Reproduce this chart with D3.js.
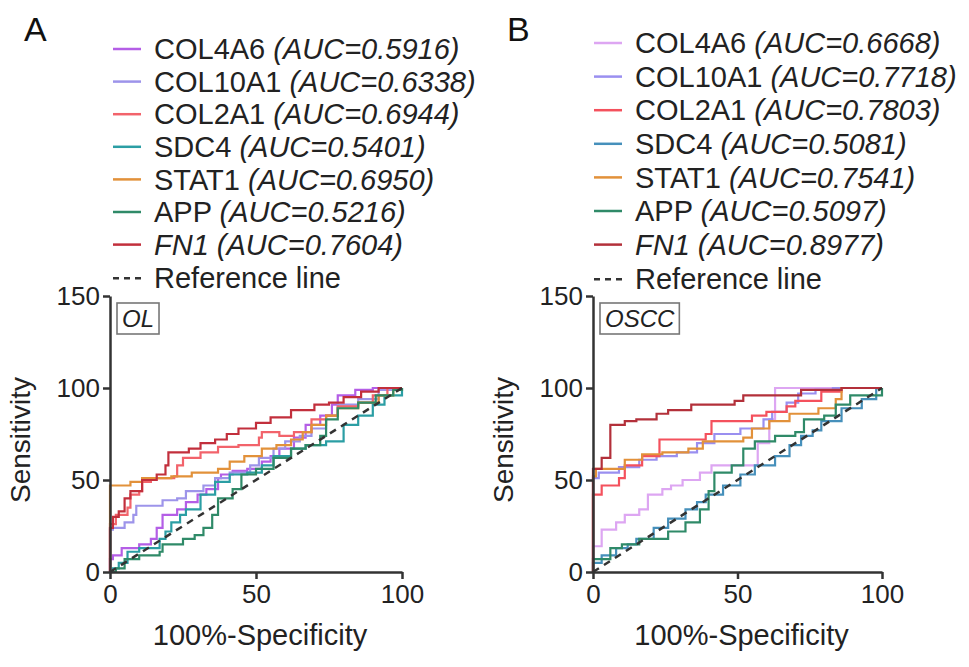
<!DOCTYPE html>
<html>
<head>
<meta charset="utf-8">
<script src="https://cdnjs.cloudflare.com/ajax/libs/d3/7.8.5/d3.min.js"></script>
<style>
  html, body { margin: 0; padding: 0; background: #fff; }
  svg { display: block; font-family: "Liberation Sans", Arial, Helvetica, sans-serif; }
</style>
</head>
<body>
<svg id="chart" width="969" height="667"></svg>
<script>
/**
 * two ROC panels (OL / OSCC) with step curves
 */
(function() {
"use strict";

// --- data --------------------------------------------------------------
var genes = ["COL4A6", "COL10A1", "COL2A1", "SDC4", "STAT1", "APP", "FN1"];
var italicGene = [false, false, false, false, false, false, true];

var aucOL   = ["0.5916", "0.6338", "0.6944", "0.5401", "0.6950", "0.5216", "0.7604"];
var aucOSCC = ["0.6668", "0.7718", "0.7803", "0.5081", "0.7541", "0.5097", "0.8977"];

var colorsOL   = ["#b45ee6", "#9d94ea", "#f2636b", "#2b9ea4", "#e2913a", "#2f8a68", "#c22f3c"];
var colorsOSCC = ["#dda6f2", "#9a8ff0", "#f4515d", "#4690bb", "#e2913a", "#2f8a68", "#b3303a"];

var xTicks = [0, 50, 100];
var yTicks = [0, 50, 100, 150];

// [100%-specificity, sensitivity], step after
var olCOL4A6 = [[0,0],[0,7],[1,9],[4,13],[10,15],[14,18],[16,24],[18,31],[23,34],[26,38],[30,42],[33,45],[37,51],[38,53],[42,55],[47,56],[52,60],[55,63],[58,67],[63,73],[67,80],[72,85],[76,91],[78,96],[84,99],[90,100],[100,100]];
var olCOL10A1 = [[0,0],[0,23],[1,24],[5,27],[8,31],[9,36],[18,39],[23,40],[26,44],[32,47],[36,51],[41,54],[48,58],[51,62],[56,67],[60,71],[65,74],[69,78],[74,85],[78,91],[85,94],[92,99],[99,100],[100,100]];
var olCOL2A1 = [[0,0],[0,26],[2,31],[6,35],[7,42],[10,44],[11,49],[14,51],[22,52],[23,58],[25,62],[31,65],[37,68],[44,69],[51,73],[52,76],[58,74],[63,76],[69,83],[74,85],[78,90],[85,92],[90,96],[95,100],[100,100]];
var olSDC4 = [[0,0],[1,2],[3,5],[6,11],[10,13],[17,18],[19,22],[21,27],[24,31],[26,34],[31,42],[36,49],[41,53],[47,54],[52,58],[56,63],[62,67],[67,69],[74,71],[80,80],[85,85],[90,91],[94,96],[100,100]];
var olSTAT1 = [[0,0],[0,47],[7,49],[11,51],[21,52],[28,54],[37,56],[41,60],[46,63],[52,67],[57,69],[62,72],[66,76],[69,80],[74,85],[78,89],[85,92],[92,96],[97,100],[100,100]];
var olAPP = [[0,0],[2,2],[5,7],[10,9],[17,11],[18,15],[25,18],[29,20],[32,24],[35,31],[37,40],[42,45],[45,53],[50,56],[56,62],[62,67],[67,69],[72,74],[74,83],[78,89],[85,92],[91,96],[97,99],[100,100]];
var olFN1 = [[0,0],[0,24],[1,30],[3,33],[5,40],[7,44],[11,50],[16,53],[19,58],[20,65],[27,67],[31,70],[36,72],[40,75],[44,78],[50,81],[55,84],[62,88],[70,91],[75,92],[80,95],[86,98],[92,100],[100,100]];

var osccCOL4A6 = [[0,0],[0,14],[3,23],[8,27],[11,31],[16,34],[19,42],[24,45],[27,47],[31,50],[37,54],[41,58],[57,70],[61,83],[63,100],[100,100]];
var osccCOL10A1 = [[0,0],[0,51],[2,54],[9,57],[16,61],[22,63],[29,65],[36,70],[42,75],[51,78],[59,83],[62,87],[67,92],[71,97],[77,99],[83,100],[100,100]];
var osccCOL2A1 = [[0,0],[0,42],[3,47],[9,51],[11,58],[17,63],[23,72],[39,75],[41,82],[55,85],[60,87],[67,90],[70,93],[79,98],[86,100],[100,100]];
var osccSDC4 = [[0,0],[0,5],[3,9],[8,13],[12,15],[15,18],[21,24],[26,29],[32,34],[36,38],[39,42],[45,47],[51,53],[56,58],[63,63],[68,69],[72,74],[76,77],[79,82],[86,89],[93,94],[98,100],[100,100]];
var osccSTAT1 = [[0,0],[0,52],[1,56],[11,61],[17,64],[24,65],[33,67],[38,71],[52,73],[55,78],[61,82],[68,86],[78,89],[84,94],[86,100],[100,100]];
var osccAPP = [[0,0],[0,7],[6,13],[10,15],[16,18],[26,22],[32,27],[37,34],[40,38],[40,44],[42,54],[48,58],[52,67],[56,71],[63,74],[70,76],[73,83],[80,85],[84,91],[89,96],[99,96],[100,100]];
var osccFN1 = [[0,0],[0,56],[3,62],[6,80],[11,82],[15,83],[22,86],[26,88],[34,91],[49,93],[52,96],[72,99],[86,100],[100,100]];

var curvesOL   = [olCOL4A6, olCOL10A1, olCOL2A1, olSDC4, olSTAT1, olAPP, olFN1];
var curvesOSCC = [osccCOL4A6, osccCOL10A1, osccCOL2A1, osccSDC4, osccSTAT1, osccAPP, osccFN1];

// --- drawing -----------------------------------------------------------
var svg = d3.select("#chart");
var axisColor = "#333";

drawPanel({
  letter: "A", tag: "OL", x0: 110, x1: 402,
  curves: curvesOL, aucs: aucOL, colors: colorsOL,
  legendX: 113, legendY: 49, legendStep: 32.6
});

drawPanel({
  letter: "B", tag: "OSCC", x0: 593, x1: 882,
  curves: curvesOSCC, aucs: aucOSCC, colors: colorsOSCC,
  legendX: 594, legendY: 43, legendStep: 33.6
});

function drawPanel(p) {
  var g = svg.append("g");
  var x = d3.scaleLinear().domain([0, 100]).range([p.x0, p.x1]);
  var y = d3.scaleLinear().domain([0, 150]).range([572, 296]);

  // panel letter
  g.append("text")
    .attr("x", p.x0 - 86)
    .attr("y", 41)
    .style("font-size", "34px")
    .style("fill", "#111")
    .text(p.letter);

  // legend
  var leg = g.append("g").attr("transform", "translate(" + p.legendX + "," + p.legendY + ")");
  genes.forEach(function(name, i) {
    var row = leg.append("g").attr("transform", "translate(0," + (i * p.legendStep) + ")");
    row.append("line")
      .attr("x1", 0).attr("x2", 28)
      .attr("stroke", p.colors[i])
      .attr("stroke-width", 2.5);
    var t = row.append("text")
      .attr("x", 41)
      .attr("dy", "0.35em")
      .style("font-size", "29px")
      .style("fill", "#222");
    t.append("tspan")
      .style("font-style", italicGene[i] ? "italic" : "normal")
      .text(name + " ");
    t.append("tspan")
      .style("font-style", "italic")
      .text("(AUC=" + p.aucs[i] + ")");
  });
  var refRow = leg.append("g").attr("transform", "translate(0," + (genes.length * p.legendStep + 1) + ")");
  refRow.append("line")
    .attr("x1", 0).attr("x2", 28)
    .attr("stroke", axisColor)
    .attr("stroke-width", 2.5)
    .attr("stroke-dasharray", "6,5");
  refRow.append("text")
    .attr("x", 41)
    .attr("dy", "0.35em")
    .style("font-size", "29px")
    .style("fill", "#222")
    .text("Reference line");

  // curves
  var line = d3.line()
    .x(function(d) { return x(d[0]); })
    .y(function(d) { return y(d[1]); })
    .curve(d3.curveStepAfter);

  g.append("g")
    .selectAll("path")
    .data(p.curves)
    .enter()
    .append("path")
    .attr("d", line)
    .attr("fill", "none")
    .attr("stroke", function(d, i) { return p.colors[i]; })
    .attr("stroke-width", 2.2)
    .attr("stroke-linejoin", "miter");

  // reference line
  g.append("path")
    .attr("d", d3.line().x(function(d) { return x(d[0]); }).y(function(d) { return y(d[1]); })([[0, 0], [100, 100]]))
    .attr("fill", "none")
    .attr("stroke", axisColor)
    .attr("stroke-width", 2.5)
    .attr("stroke-dasharray", "7,6");

  // axes
  var xAxis = d3.axisBottom(x).tickValues(xTicks).tickSize(7).tickPadding(6).tickSizeOuter(0);
  var yAxis = d3.axisLeft(y).tickValues(yTicks).tickSize(7).tickPadding(3).tickSizeOuter(0);

  var gx = g.append("g").attr("transform", "translate(0,572)").call(xAxis);
  var gy = g.append("g").attr("transform", "translate(" + p.x0 + ",0)").call(yAxis);

  [gx, gy].forEach(function(a) {
    a.select(".domain").attr("stroke", axisColor).attr("stroke-width", 2.5);
    a.selectAll(".tick line").attr("stroke", axisColor).attr("stroke-width", 2.5);
    a.selectAll(".tick text")
      .style("font-size", "26px")
      .style("font-family", "'Liberation Sans', Arial, Helvetica, sans-serif")
      .attr("fill", "#222");
  });

  // axis titles
  g.append("text")
    .attr("x", (p.x0 + p.x1) / 2 + 4)
    .attr("y", 645)
    .attr("text-anchor", "middle")
    .style("font-size", "29px")
    .style("fill", "#222")
    .text("100%-Specificity");

  g.append("text")
    .attr("transform", "translate(" + (p.x0 - 80) + ",440) rotate(-90)")
    .attr("text-anchor", "middle")
    .style("font-size", "28px")
    .style("fill", "#222")
    .text("Sensitivity");

  // group tag box
  var tag = g.append("g").attr("transform", "translate(" + (p.x0 + 7) + ",303)");
  var tt = tag.append("text")
    .attr("x", 5)
    .attr("y", 24)
    .style("font-size", "24px")
    .style("font-style", "italic")
    .style("fill", "#222")
    .text(p.tag);
  var w = tt.node().getComputedTextLength();
  tag.insert("rect", "text")
    .attr("x", 0).attr("y", 0)
    .attr("width", w + 10).attr("height", 31)
    .attr("fill", "#fff")
    .attr("stroke", "#777")
    .attr("stroke-width", 1.6);
}

})();
</script>
</body>
</html>
